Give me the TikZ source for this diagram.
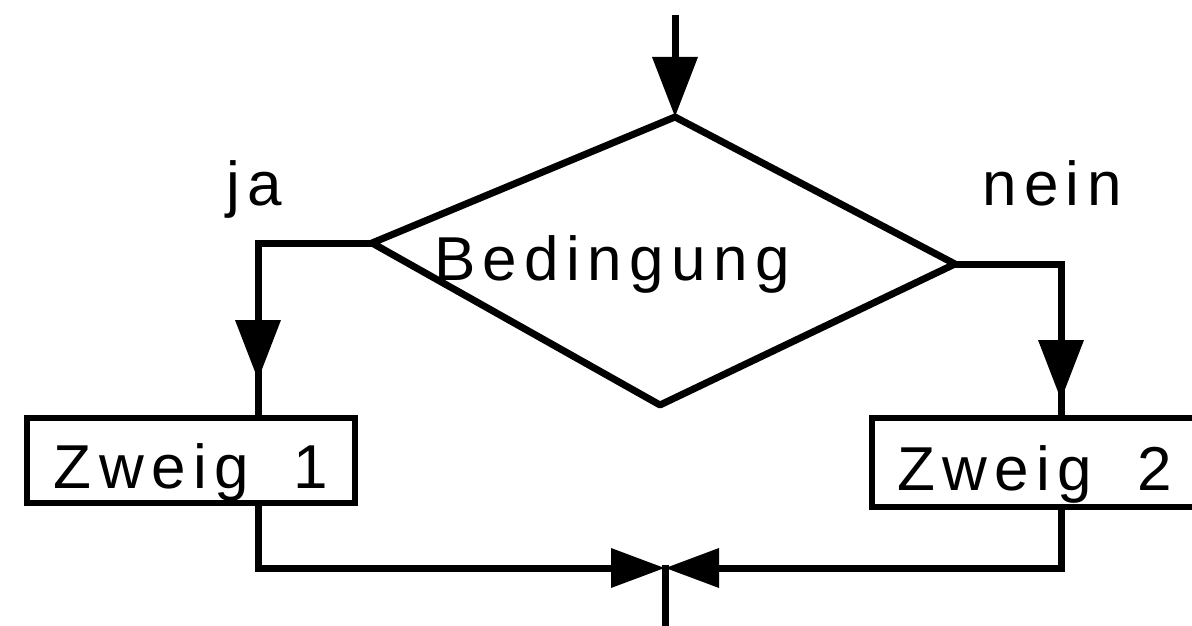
\documentclass[tikz,border=0pt]{standalone}
\usepackage{fontspec}
\setmainfont{Liberation Sans}[LetterSpace=12]
\usetikzlibrary{arrows.meta}
\tikzset{
  flow/.style={line width=7pt, line join=miter},
  bigtip/.style={-{Triangle[length=60pt,width=44pt]}},
  midtip/.style={-{Triangle[length=54pt,width=38pt]}},
  branchbox/.style={draw, line width=6pt, inner sep=0pt, text height=55pt, text depth=0pt,
    font=\fontsize{62}{70}\selectfont},
  lbl/.style={inner sep=0pt, anchor=base west, font=\fontsize{62}{70}\selectfont},
}
\begin{document}
\begin{tikzpicture}[x=1pt,y=-1pt]
\useasboundingbox (0,0) rectangle (1192,626);
% diamond corners
\coordinate (dT) at (675,117);
\coordinate (dL) at (372,243);
\coordinate (dR) at (955,264);
\coordinate (dB) at (660,405);
\coordinate (start) at (675,15);
\draw[flow, line join=round] (dT) -- (dR) -- (dB) -- (dL) -- cycle;
\node[lbl] (cond) at (434,280) {Bedingung};
\node[lbl] (ja) at (226,205) {ja};
\node[lbl] (nein) at (982,205) {nein};
% boxes
\node[branchbox, minimum width=328pt, minimum height=85pt] (z1) at (191,460.5) {Zweig \hspace{20pt}1};
\node[branchbox, minimum width=325pt, minimum height=89pt] (z2) at (1034.5,462.5) {Zweig \hspace{20pt}2};
% helper coordinates
\coordinate (jaTip) at (258,380);
\coordinate (neinTip) at (1061,400);
\coordinate (m) at (665,568);
\coordinate (out) at (665,640);
% connectors
\draw[flow, bigtip] (start) -- (dT);
\draw[flow, bigtip] (dL) -| (jaTip);
\draw[flow] ([yshift=14pt]jaTip) -- (z1.north -| jaTip);
\draw[flow, bigtip] (dR) -| (neinTip);
\draw[flow] ([yshift=14pt]neinTip) -- (z2.north -| neinTip);
\draw[flow, midtip] (z1.south -| jaTip) |- (m);
\draw[flow, midtip] (z2.south -| neinTip) |- (m);
\draw[flow] ([yshift=3pt]m) -- (out);
\end{tikzpicture}
\end{document}
